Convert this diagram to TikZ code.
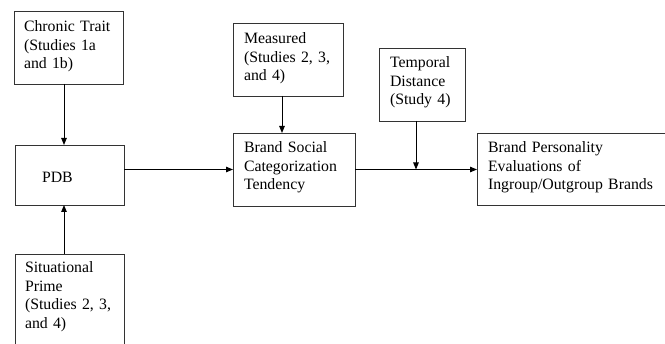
\documentclass[tikz,border=0pt]{standalone}
\usepackage{fontspec}
\setmainfont{Liberation Serif}
\usetikzlibrary{arrows.meta}

\tikzset{
    box/.style={draw=black!80, line width=0.9pt, anchor=north west, outer sep=0pt,
        inner ysep=0pt, inner xsep=11pt, align=left,
        font=\fontsize{15.8}{18.5}\selectfont},
    link/.style={-{Triangle[length=7pt,width=5.5pt]}, line width=0.9pt}
}

\begin{document}
\begin{tikzpicture}[x=1pt,y=1pt]
    \useasboundingbox (0,0) rectangle (665,-344);
    \node[box, inner xsep=10pt, text width=89pt, text height=21pt, text depth=52pt] (chronic) at (14,-11) {Chronic Trait\\(Studies 1a\\and 1b)};
    \node[box, inner xsep=27pt, text width=55pt, text height=38pt, text depth=22pt] (pdb) at (15,-145) {PDB};
    \node[box, inner xsep=10pt, text width=89pt, text height=19pt, text depth=77pt] (prime) at (15,-254) {Situational\\Prime\\(Studies 2, 3,\\and 4)};
    \node[box, text width=88pt, text height=21pt, text depth=52pt] (measured) at (233,-23) {Measured\\(Studies 2, 3,\\and 4)};
    \node[box, text width=100pt, text height=20pt, text depth=53pt] (brand) at (233,-133) {Brand Social\\Categorization\\Tendency};
    \node[box, text width=64pt, text height=20pt, text depth=53pt] (temporal) at (379,-48) {Temporal\\Distance\\(Study 4)};
    \node[box, text width=171pt, text height=20pt, text depth=52pt] (evaluations) at (477,-133) {Brand Personality\\Evaluations of\\Ingroup/Outgroup Brands};
    \path [link] ([xshift=-4.5pt]chronic.south) edge ([xshift=-4.5pt]chronic.south |- pdb.north);
    \path [link] ([xshift=-5.5pt]prime.north) edge ([xshift=-5.5pt]pdb.south);
    \path [link] (pdb.east |- brand.west) edge (brand.west);
    \path [link] ([xshift=-6pt]measured.south) edge ([xshift=-6pt]measured.south |- brand.north);
    \path [link] (brand.east) edge (brand.east -| evaluations.west);
    \path [link] ([xshift=-6pt]temporal.south) edge ([xshift=-6pt]temporal.south |- brand.east);
\end{tikzpicture}
\end{document}
